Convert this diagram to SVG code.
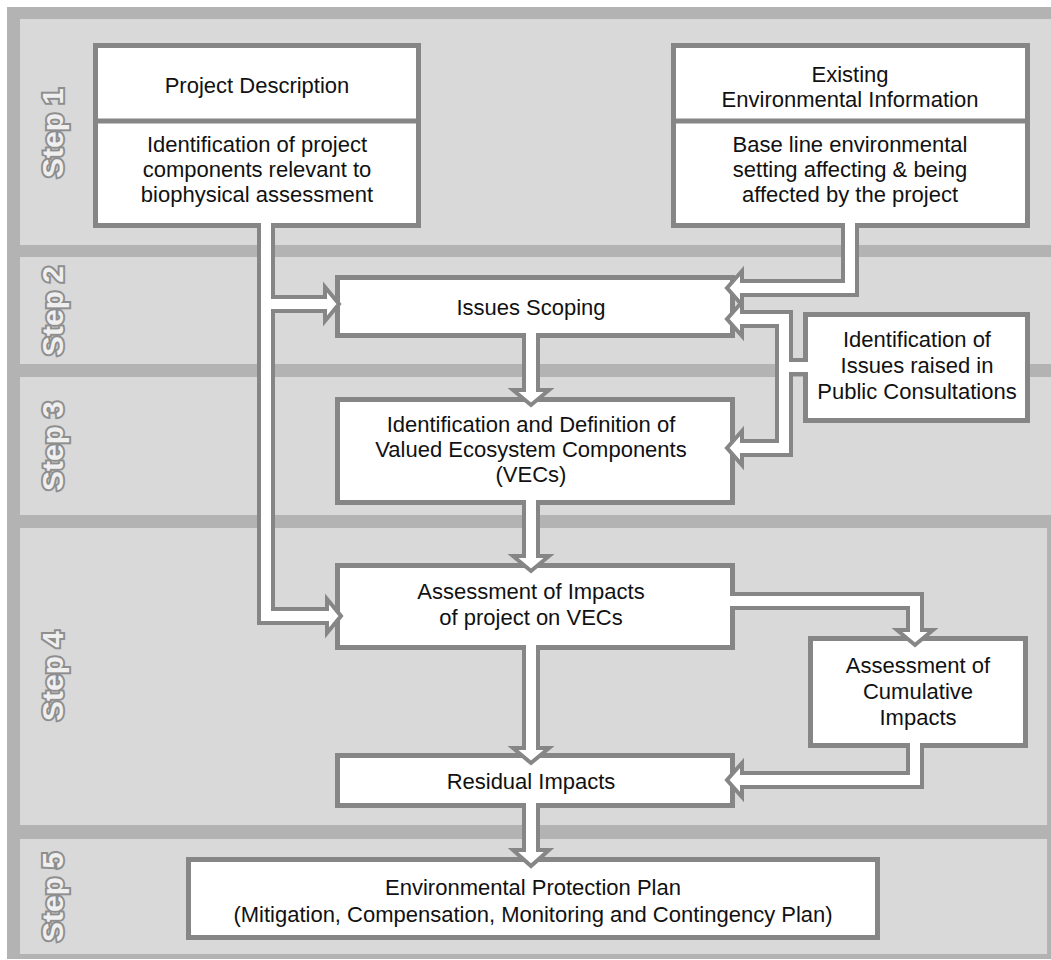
<svg xmlns="http://www.w3.org/2000/svg" width="1051" height="960" viewBox="0 0 1051 960">
<style>
.panel{fill:#d9d9d9}
.box{fill:#fff;stroke:#868686;stroke-width:5}
.div{stroke:#868686;stroke-width:5}
.t{font-family:"Liberation Sans",Arial,sans-serif;font-size:22px;fill:#111;text-anchor:middle}
.step{font-family:"Liberation Sans",Arial,sans-serif;font-size:30px;font-weight:bold;fill:#efefef;stroke:#8e8e8e;stroke-width:4;paint-order:stroke;text-anchor:middle}
.sg{fill:none;stroke:#868686;stroke-width:18;stroke-linejoin:miter}
.sw{fill:none;stroke:#fff;stroke-width:10;stroke-linejoin:miter}
.hd{fill:#fff;stroke:#868686;stroke-width:4;stroke-linejoin:miter}
</style>
<g id="background">
<rect x="7" y="7" width="1051" height="952" fill="#b3b3b3"/>
<rect class="panel" x="20" y="19" width="1031" height="226"/>
<rect class="panel" x="20" y="257" width="1031" height="107"/>
<rect class="panel" x="20" y="377" width="1031" height="138"/>
<rect class="panel" x="20" y="528" width="1027" height="297"/>
<rect class="panel" x="20" y="839" width="1027" height="115"/>
</g>
<g id="step-labels">
<text class="step" transform="translate(63,133) rotate(-90)">Step 1</text>
<text class="step" transform="translate(63,311) rotate(-90)">Step 2</text>
<text class="step" transform="translate(63,446) rotate(-90)">Step 3</text>
<text class="step" transform="translate(63,676) rotate(-90)">Step 4</text>
<text class="step" transform="translate(63,897) rotate(-90)">Step 5</text>
</g>
<g id="project-description">
<rect class="box" x="95.5" y="45.5" width="323" height="180"/>
<line class="div" x1="95.5" y1="121" x2="418.5" y2="121"/>
<text class="t" x="257" y="93">Project Description</text>
<text class="t" x="257" y="152">Identification of project</text>
<text class="t" x="257" y="177">components relevant to</text>
<text class="t" x="257" y="202">biophysical assessment</text>
</g>
<g id="existing-info">
<rect class="box" x="673.5" y="45.5" width="354" height="180"/>
<line class="div" x1="673.5" y1="121" x2="1027.5" y2="121"/>
<text class="t" x="850" y="82">Existing</text>
<text class="t" x="850" y="107">Environmental Information</text>
<text class="t" x="850" y="152">Base line environmental</text>
<text class="t" x="850" y="177">setting affecting &amp; being</text>
<text class="t" x="850" y="202">affected by the project</text>
</g>
<g id="issues-scoping">
<rect class="box" x="337.5" y="277.5" width="395" height="58"/>
<text class="t" x="531" y="315">Issues Scoping</text>
</g>
<g id="public-consultations">
<rect class="box" x="805.5" y="314.5" width="222" height="106"/>
<text class="t" x="917" y="347">Identification of</text>
<text class="t" x="917" y="373">Issues raised in</text>
<text class="t" x="917" y="399">Public Consultations</text>
</g>
<g id="vecs">
<rect class="box" x="337.5" y="399.5" width="395" height="103"/>
<text class="t" x="531" y="432">Identification and Definition of</text>
<text class="t" x="531" y="457">Valued Ecosystem Components</text>
<text class="t" x="531" y="482">(VECs)</text>
</g>
<g id="assessment-impacts">
<rect class="box" x="337.5" y="565.5" width="395" height="82"/>
<text class="t" x="531" y="599">Assessment of Impacts</text>
<text class="t" x="531" y="625">of project on VECs</text>
</g>
<g id="cumulative-impacts">
<rect class="box" x="810.5" y="638.5" width="215" height="107"/>
<text class="t" x="918" y="673">Assessment of</text>
<text class="t" x="918" y="699">Cumulative</text>
<text class="t" x="918" y="725">Impacts</text>
</g>
<g id="residual-impacts">
<rect class="box" x="337.5" y="755.5" width="395" height="50"/>
<text class="t" x="531" y="789">Residual Impacts</text>
</g>
<g id="environmental-protection-plan">
<rect class="box" x="188.5" y="859.5" width="689" height="78"/>
<text class="t" x="533" y="895">Environmental Protection Plan</text>
<text class="t" x="533" y="922">(Mitigation, Compensation, Monitoring and Contingency Plan)</text>
</g>
<g id="connectors">
<path class="sg" d="M266,228 V616 H325 M266,304 H325"/>
<path class="sg" d="M850,228 V288 H742"/>
<path class="sg" d="M803,367 H784 M742,319 H784 V448 H742"/>
<path class="sg" d="M531,338 V390"/>
<path class="sg" d="M531,505 V556"/>
<path class="sg" d="M531,650 V748"/>
<path class="sg" d="M531,808 V850"/>
<path class="sg" d="M735,601 H915 V630"/>
<path class="sg" d="M915,748 V780 H742"/>
<polygon class="hd" points="325,287 339,304 325,321"/>
<polygon class="hd" points="327,599 341,616 327,633"/>
<polygon class="hd" points="742,271 727,288 742,305"/>
<polygon class="hd" points="742,302 727,319 742,336"/>
<polygon class="hd" points="742,431 727,448 742,465"/>
<polygon class="hd" points="742,763 727,780 742,797"/>
<polygon class="hd" points="513,390 531,405 549,390"/>
<polygon class="hd" points="513,556 531,571 549,556"/>
<polygon class="hd" points="513,748 531,763 549,748"/>
<polygon class="hd" points="513,850 531,866 549,850"/>
<polygon class="hd" points="897,630 915,645 933,630"/>
<path class="sw" d="M266,223 V616 H329 M266,304 H328"/>
<path class="sw" d="M850,223 V288 H739"/>
<path class="sw" d="M808,367 H784 M739,319 H784 V448 H739"/>
<path class="sw" d="M531,333 V393"/>
<path class="sw" d="M531,500 V559"/>
<path class="sw" d="M531,645 V751"/>
<path class="sw" d="M531,803 V853"/>
<path class="sw" d="M730,601 H915 V633"/>
<path class="sw" d="M915,743 V780 H739"/>
</g>
</svg>
